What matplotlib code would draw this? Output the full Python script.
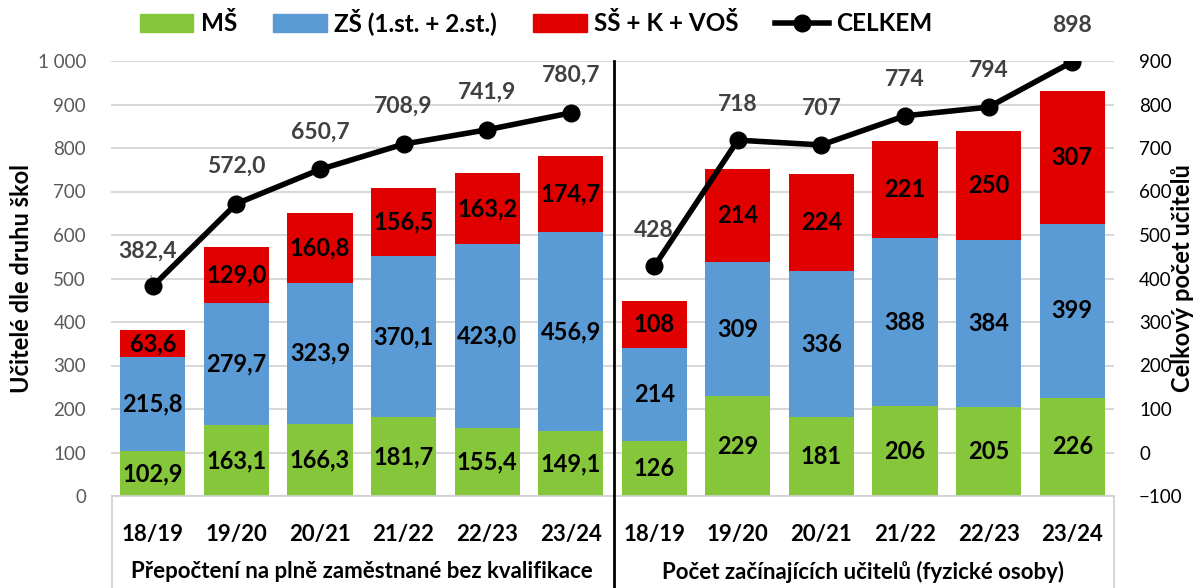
import matplotlib
matplotlib.use("Agg")
import matplotlib.pyplot as plt
from matplotlib.patches import Patch
from matplotlib.lines import Line2D
import numpy as np

plt.rcParams['font.family'] = ['Lato', 'DejaVu Sans']

categories = ["18/19", "19/20", "20/21", "21/22", "22/23", "23/24"]
group_labels = ["Přepočtení na plně zaměstnané bez kvalifikace",
                "Počet začínajících učitelů (fyzické osoby)"]

ms_left = [102.9, 163.1, 166.3, 181.7, 155.4, 149.1]
zs_left = [215.8, 279.7, 323.9, 370.1, 423.0, 456.9]
ss_left = [63.6, 129.0, 160.8, 156.5, 163.2, 174.7]
total_left = [382.4, 572.0, 650.7, 708.9, 741.9, 780.7]

ms_right = [126, 229, 181, 206, 205, 226]
zs_right = [214, 309, 336, 388, 384, 399]
ss_right = [108, 214, 224, 221, 250, 307]
total_right = [428, 718, 707, 774, 794, 898]

series_names = ["MŠ", "ZŠ (1.st. + 2.st.)", "SŠ + K + VOŠ", "CELKEM"]
c_green = "#85C63B"
c_blue = "#5B9BD5"
c_red = "#E00000"

W, H = 1200, 588
fig = plt.figure(figsize=(W / 100, H / 100), dpi=100)
ax = fig.add_axes([111 / W, 1 - 496 / H, (1114 - 111) / W, (496 - 61) / H])
ax2 = ax.twinx()

ms = np.array(ms_left + ms_right, dtype=float)
zs = np.array(zs_left + zs_right, dtype=float)
ss = np.array(ss_left + ss_right, dtype=float)
x = np.arange(len(ms))
bw = 0.78

ax.bar(x, ms, bw, color=c_green, zorder=2)
ax.bar(x, zs, bw, bottom=ms, color=c_blue, zorder=2)
ax.bar(x, ss, bw, bottom=ms + zs, color=c_red, zorder=2)

def fmt(v, dec):
    if dec:
        return f"{v:.1f}".replace(".", ",")
    return f"{int(round(v))}"

for i in range(len(x)):
    dec = i < 6
    for vals, bottoms in ((ms, np.zeros_like(ms)), (zs, ms), (ss, ms + zs)):
        ax.text(x[i], bottoms[i] + vals[i] / 2, fmt(vals[i], dec), ha='center', va='center',
                fontsize=17, fontweight='bold', color='black', zorder=3)

ax.set_ylim(0, 1000)
ax.set_xlim(-0.5, len(x) - 0.5)
ax.set_yticks(np.arange(0, 1001, 100))
ax.set_yticklabels([f"{v:,}".replace(",", " ") for v in range(0, 1001, 100)])
ax.yaxis.grid(True, color="#D9D9D9", linewidth=1.5, zorder=0)
ax.set_axisbelow(True)
ax.tick_params(axis='y', length=0, labelsize=13.5, labelcolor="#595959", pad=18)
ax.set_xticks(x)
ax.set_xticklabels(categories + categories, fontsize=16, fontweight='bold')
ax.tick_params(axis='x', length=0, pad=20)
for s in ax.spines.values():
    s.set_visible(False)

ax2.set_ylim(-100, 900)
ax2.set_yticks(np.arange(-100, 901, 100))
ax2.tick_params(axis='y', length=0, labelsize=13.5, labelcolor="#000000", pad=18)
for s in ax2.spines.values():
    s.set_visible(False)

xl = x[:6]
xr = x[6:]
ax2.plot(xl, total_left, color='black', lw=4, marker='o', markersize=12, zorder=5)
ax2.plot(xr, total_right, color='black', lw=4, marker='o', markersize=12, zorder=5)
for i, v in enumerate(total_left):
    if i == 0:
        ax2.annotate(fmt(v, True), (xl[i], v), xytext=(-4, 25), textcoords='offset points',
                     ha='center', va='center', fontsize=16.5, fontweight='bold', color='#404040',
                     arrowprops=dict(arrowstyle='-', color='#A6A6A6', lw=1, shrinkA=8, shrinkB=2))
    else:
        ax2.annotate(fmt(v, True), (xl[i], v), xytext=(0, 27), textcoords='offset points',
                     ha='center', va='center', fontsize=16.5, fontweight='bold', color='#404040')
for i, v in enumerate(total_right):
    ax2.annotate(fmt(v, False), (xr[i], v), xytext=(0, 26), textcoords='offset points',
                 ha='center', va='center', fontsize=16.5, fontweight='bold', color='#404040')

ax.set_ylabel("Učitelé dle druhu škol", fontsize=17, fontweight='bold')
ax.yaxis.set_label_coords((33 - 111) / 1003, 0.5)
ax2.set_ylabel("Celkový počet učitelů", fontsize=17, fontweight='bold', rotation=90)
ax2.yaxis.set_label_coords((1171 - 111) / 1003, 0.5)

# group labels
for gi, gl in enumerate(group_labels):
    ax.text(2.5 + 6 * gi, -(572 - 496) / (496 - 61), gl, transform=ax.get_xaxis_transform(),
            ha='center', va='center', fontsize=16, fontweight='bold')

# category frame lines (figure coords)
def fl(x0, y0, x1, y1, color, lw):
    fig.add_artist(Line2D([x0 / W, x1 / W], [1 - y0 / H, 1 - y1 / H], color=color, lw=lw))

fl(112, 496, 1114, 496, "#D0D0D0", 1.2)
fl(112, 496, 112, 588, "#D0D0D0", 1.2)
fl(1114, 496, 1114, 588, "#D0D0D0", 1.2)
fl(613.5, 61, 613.5, 588, "black", 2)

handles = [Patch(color=c_green), Patch(color=c_blue), Patch(color=c_red),
           Line2D([0], [0], color='black', lw=4, marker='o', markersize=12)]
fig.legend(handles, series_names, loc='center', bbox_to_anchor=(536 / W, 1 - 22 / H), ncol=4,
           frameon=False, prop={'size': 17.5, 'weight': 'bold'}, handlelength=2.2,
           handleheight=0.8, handletextpad=0.3, columnspacing=1.5)

fig.savefig("out.png", dpi=100)
